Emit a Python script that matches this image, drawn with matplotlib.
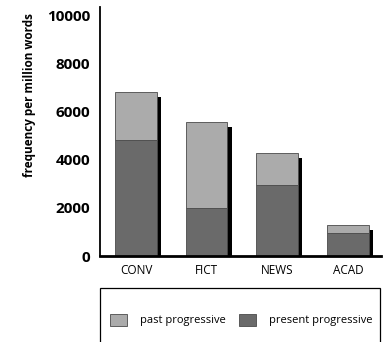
import matplotlib
matplotlib.use("Agg")
import matplotlib.pyplot as plt
from matplotlib.patches import Rectangle
import numpy as np

plt.rcParams['font.family'] = ['Open Sans', 'DejaVu Sans']

categories = ["CONV", "FICT", "NEWS", "ACAD"]
present = [4850, 2000, 2950, 950]
past = [1980, 3580, 1340, 340]
yticks = [0, 2000, 4000, 6000, 8000, 10000]

W, H = 386, 342
fig = plt.figure(figsize=(W / 100, H / 100), dpi=100)
ax = fig.add_axes([100 / W, 1 - 256 / H, 281 / W, 249 / H])

x = np.arange(len(categories))
totals = np.array(present) + np.array(past)
bw = 0.59
# shadow
ax.bar(x + 0.06, totals - 210, width=bw, color="black", zorder=1)
ax.bar(x, present, width=bw, color="#6a6a6a", edgecolor="#4a4a4a", linewidth=0.6,
       label="present progressive", zorder=2)
ax.bar(x, past, bottom=present, width=bw, color="#ababab", edgecolor="#4a4a4a",
       linewidth=0.6, label="past progressive", zorder=2)

ax.set_xlim(-0.51, 3.47)
ax.set_ylim(0, 10375)
ax.set_yticks(yticks)
ax.set_yticklabels([str(v) for v in yticks], fontsize=11, fontweight="bold")
ax.tick_params(axis="y", length=0, pad=7)
ax.set_xticks(x)
ax.set_xticklabels(categories, fontsize=8.5)
ax.tick_params(axis="x", length=0, pad=6)
for s in ["top", "right"]:
    ax.spines[s].set_visible(False)
ax.spines["left"].set_linewidth(1.3)
ax.spines["bottom"].set_linewidth(2)
ax.set_ylabel("frequency per million words", fontsize=8.5, fontweight="bold")
ax.yaxis.set_label_coords(-0.228, 0.647)

# legend
fig.patches.append(Rectangle((100 / W, -0.05), 280 / W, 0.05 + (H - 288) / H,
                             transform=fig.transFigure, fill=False,
                             edgecolor="black", linewidth=0.9))
h, l = ax.get_legend_handles_labels()
leg = fig.legend([h[1], h[0]], [l[1], l[0]], loc="center left",
                 bbox_to_anchor=(100 / W, 1 - 320 / H), ncol=2, frameon=False,
                 fontsize=8, handlelength=1.55, handleheight=1.35, columnspacing=1.2,
                 handletextpad=1.15)

fig.savefig("out.png", dpi=100)
